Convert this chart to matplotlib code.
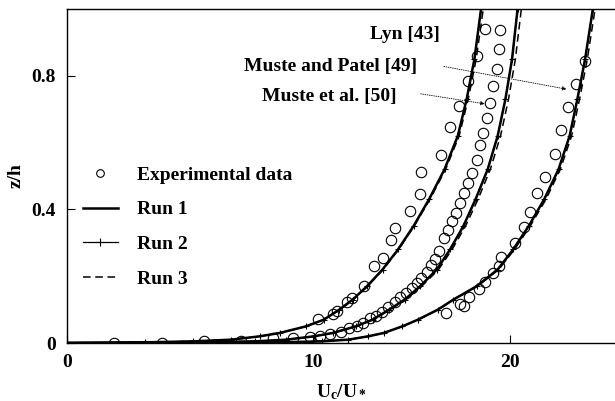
import matplotlib
matplotlib.use("Agg")
import numpy as np
import matplotlib.pyplot as plt
from matplotlib.lines import Line2D

plt.rcParams['font.family'] = 'Liberation Serif'
plt.rcParams['font.weight'] = 'bold'
plt.rcParams['axes.labelweight'] = 'bold'
plt.rcParams['mathtext.fontset'] = 'custom'
plt.rcParams['mathtext.rm'] = 'Liberation Serif:bold'
plt.rcParams['mathtext.it'] = 'Liberation Serif:bold'
plt.rcParams['mathtext.bf'] = 'Liberation Serif:bold'

# model curves: common z/h grid
z_model = [0, 0.002, 0.005, 0.01, 0.02, 0.03, 0.05, 0.07, 0.1, 0.13, 0.17,
           0.22, 0.28, 0.35, 0.43, 0.52, 0.62, 0.73, 0.85, 1.0]

# Lyn [43]
lyn_run1 = [0, 3.5, 5.7, 7.4, 8.7, 9.6, 10.8, 11.6, 12.3, 12.9, 13.55,
            14.25, 14.95, 15.65, 16.35, 17.05, 17.65, 18.05, 18.4, 18.7]
lyn_run2 = [0, 3.5, 5.7, 7.4, 8.7, 9.6, 10.8, 11.6, 12.3, 12.9, 13.55,
            14.25, 14.95, 15.65, 16.35, 17.05, 17.65, 18.05, 18.4, 18.7]
lyn_run3 = [0, 3.5, 5.7, 7.4, 8.7, 9.6, 10.8, 11.6, 12.33, 12.93, 13.58,
            14.28, 14.98, 15.68, 16.39, 17.1, 17.71, 18.12, 18.48, 18.8]

# Muste and Patel [49]
mp_run1 = [0, 6.0, 8.5, 9.9, 11.15, 12.0, 13.05, 13.8, 14.55, 15.25, 15.95,
           16.7, 17.3, 17.9, 18.45, 19.0, 19.45, 19.8, 20.1, 20.35]
mp_run2 = [0, 6.0, 8.5, 9.9, 11.15, 12.0, 13.05, 13.8, 14.55, 15.25, 15.95,
           16.7, 17.3, 17.9, 18.45, 19.0, 19.45, 19.8, 20.1, 20.35]
mp_run3 = [0, 6.0, 8.5, 9.9, 11.15, 12.0, 13.05, 13.84, 14.59, 15.3, 16.02,
           16.78, 17.39, 18.0, 18.56, 19.12, 19.58, 19.94, 20.25, 20.52]

# Muste et al. [50]
me_run1 = [0, 9.5, 11.5, 12.7, 13.6, 14.3, 15.15, 15.85, 16.75, 17.45, 18.5,
           19.45, 20.15, 20.85, 21.55, 22.2, 22.7, 23.05, 23.4, 23.75]
me_run2 = [0, 9.5, 11.5, 12.7, 13.6, 14.3, 15.15, 15.85, 16.75, 17.45, 18.5,
           19.45, 20.15, 20.85, 21.55, 22.2, 22.7, 23.05, 23.4, 23.75]
me_run3 = [0, 9.5, 11.5, 12.7, 13.6, 14.3, 15.15, 15.87, 16.78, 17.48, 18.54,
           19.5, 20.21, 20.92, 21.63, 22.28, 22.79, 23.15, 23.5, 23.85]

# experimental data
lyn_x = [18.87, 18.5, 18.12, 17.71, 17.29, 16.9, 15.97, 15.94, 15.49, 14.81,
         14.61, 14.28, 13.86, 13.42, 12.85, 12.63, 12.18, 12.02, 11.35]
lyn_z = [0.94, 0.858, 0.783, 0.71, 0.648, 0.563, 0.513, 0.446, 0.396, 0.344,
         0.309, 0.256, 0.232, 0.172, 0.136, 0.122, 0.097, 0.087, 0.072]

mp_x = [19.55, 19.52, 19.4, 19.25, 19.1, 18.95, 18.8, 18.65, 18.5, 18.3,
        18.12, 17.94, 17.74, 17.56, 17.4, 17.21, 17.02, 16.81, 16.61, 16.43,
        16.24, 16.01, 15.79, 15.56, 15.3, 15.03, 14.81, 14.5, 14.21, 13.95,
        13.68, 13.38, 13.08, 12.74, 12.36, 11.87, 11.42, 10.97, 10.22, 9.29,
        7.84, 6.19, 4.3, 2.12]
mp_z = [0.938, 0.88, 0.82, 0.77, 0.72, 0.673, 0.63, 0.593, 0.548, 0.51,
        0.478, 0.449, 0.419, 0.39, 0.366, 0.339, 0.313, 0.274, 0.251, 0.234,
        0.212, 0.194, 0.179, 0.164, 0.151, 0.139, 0.124, 0.109, 0.094, 0.082,
        0.074, 0.061, 0.052, 0.044, 0.034, 0.027, 0.022, 0.019, 0.014, 0.014,
        0.007, 0.007, 0.001, 0.0]

me_x = [23.39, 23.0, 22.63, 22.33, 22.03, 21.58, 21.24, 20.93, 20.63, 20.23,
        19.62, 19.52, 19.22, 18.87, 18.61, 18.16, 17.95, 17.74, 17.1]
me_z = [0.845, 0.776, 0.708, 0.638, 0.566, 0.496, 0.45, 0.393, 0.347, 0.3,
        0.257, 0.231, 0.209, 0.184, 0.161, 0.139, 0.112, 0.116, 0.091]

x_ticks = [0, 11.1, 20]
x_tick_labels = ["0", "10", "20"]
y_ticks = [0, 0.4, 0.8]
y_tick_labels = ["0", "0.4", "0.8"]

fig = plt.figure(figsize=(6.15, 4.01), dpi=100)
ax = fig.add_axes([0.109, 0.1446, 0.891, 0.833])

fs = 14
for xs in (lyn_run1, mp_run1, me_run1):
    ax.plot(xs, z_model, color='k', lw=1.8, zorder=3)
for xs in (lyn_run2, mp_run2, me_run2):
    ax.plot(xs, z_model, color='k', lw=0.9, marker='+', ms=5, mew=0.8, zorder=4)
for xs in (lyn_run3, mp_run3, me_run3):
    ax.plot(xs, z_model, color='k', lw=1.1, ls=(0, (5, 3)), zorder=2)

for xs, zs in ((lyn_x, lyn_z), (mp_x, mp_z), (me_x, me_z)):
    ax.plot(xs, zs, ls='none', marker='o', ms=7.5, mfc='none', mec='k',
            mew=0.8, zorder=5)

ax.text(16.84, 0.923, "Lyn [43]", ha='right', va='center', fontsize=fs)
ax.text(15.8, 0.827, "Muste and Patel [49]", ha='right', va='center', fontsize=fs)
ax.text(14.9, 0.737, "Muste et al. [50]", ha='right', va='center', fontsize=fs)

arrow_kw = dict(arrowstyle='-|>', color='k', lw=0.6, ls=':',
                mutation_scale=6, shrinkA=0, shrinkB=0)
ax.annotate("", xy=(22.56, 0.760), xytext=(17.02, 0.828), arrowprops=arrow_kw)
ax.annotate("", xy=(18.87, 0.716), xytext=(15.97, 0.746), arrowprops=arrow_kw)

handles = [
    Line2D([], [], ls='none', marker='o', ms=5.5, mfc='none', mec='k', mew=0.8),
    Line2D([], [], color='k', lw=1.8),
    Line2D([], [], color='k', lw=0.9, marker='+', ms=6, mew=0.8, markevery=[1]),
    Line2D([], [], color='k', lw=1.1, ls=(0, (5, 3))),
]
handles[2].set_data([0, 0.5, 1], [0, 0, 0])
labels = ["Experimental data", "Run 1", "Run 2", "Run 3"]
ax.legend(handles, labels, loc='upper left', bbox_to_anchor=(0.029, 0.53),
          frameon=False, fontsize=fs, handlelength=1.8, handletextpad=1.0,
          labelspacing=0.88, borderpad=0, borderaxespad=0)

ax.set_xlim(0, 24.75)
ax.set_ylim(0, 1.0)
ax.set_xticks(x_ticks)
ax.set_xticklabels(x_tick_labels)
ax.set_yticks(y_ticks)
ax.set_yticklabels(y_tick_labels)
ax.tick_params(direction='in', length=6, width=0.8, labelsize=fs, pad=8)
ax.spines['right'].set_visible(False)
for s in ('left', 'bottom', 'top'):
    ax.spines[s].set_linewidth(1.0)

ax.set_xlabel(r"$\mathrm{U_c/U_*}$", fontsize=fs, labelpad=8)
ax.set_ylabel("z/h", fontsize=fs, labelpad=5)

fig.savefig("out.png", dpi=100)
